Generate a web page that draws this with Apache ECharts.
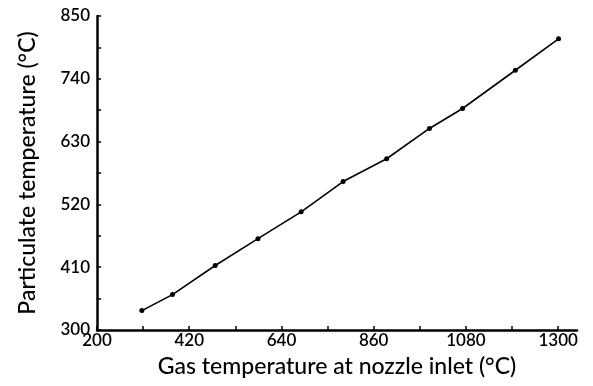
<!DOCTYPE html>
<html>
<head>
<meta charset="utf-8">
<script src="https://cdn.jsdelivr.net/npm/echarts@6/dist/echarts.min.js"></script>
<style>
  html, body { margin: 0; padding: 0; background: #fff; }
  #chart { width: 593px; height: 386px; }
</style>
</head>
<body>
<div id="chart"></div>
<script>
// gas temperature at nozzle inlet (°C)
var gasTemp = [307, 380, 482, 584, 687, 787, 891, 993, 1072, 1198, 1301]
// particulate temperature (°C)
var partTemp = [334, 362, 413, 460, 507, 560, 600, 653, 688, 755, 810]

var xTickVals = [200, 310, 420, 530, 640, 750, 860, 970, 1080, 1190, 1300]
var xLabelVals = [200, 420, 640, 860, 1080, 1300]
var yTickVals = [300, 355, 410, 465, 520, 575, 630, 685, 740, 795, 850]
var yLabelVals = [300, 410, 520, 630, 740, 850]

var font = 'Lato'
var plain = function (v) { return String(v) }
var chart = echarts.init(document.getElementById('chart'))

chart.setOption({
  animation: false,
  grid: { left: 97, right: 16, top: 16, bottom: 56 },
  xAxis: {
    type: 'value',
    min: 200,
    max: 1345,
    name: 'Gas temperature at nozzle inlet (°C)',
    nameLocation: 'middle',
    nameGap: 25,
    nameTextStyle: { color: '#000', fontSize: 23, fontFamily: font, fontWeight: 500 },
    axisLine: { lineStyle: { color: '#000', width: 2.5 } },
    axisTick: { show: true, inside: true, length: 4, customValues: xTickVals, lineStyle: { color: '#000', width: 1.5 } },
    axisLabel: { customValues: xLabelVals, formatter: plain, color: '#000', fontSize: 17, fontFamily: font, fontWeight: 600, margin: 2 },
    splitLine: { show: false }
  },
  yAxis: {
    type: 'value',
    min: 300,
    max: 850,
    name: 'Particulate temperature (°C)',
    nameLocation: 'middle',
    nameGap: 58,
    nameTextStyle: { color: '#000', fontSize: 23, fontFamily: font, fontWeight: 500 },
    axisLine: { show: true, lineStyle: { color: '#000', width: 2.5 } },
    axisTick: { show: true, inside: true, length: 4, customValues: yTickVals, lineStyle: { color: '#000', width: 1.5 } },
    axisLabel: { customValues: yLabelVals, formatter: plain, color: '#000', fontSize: 17, fontFamily: font, fontWeight: 600, margin: 7 },
    splitLine: { show: false }
  },
  series: [{
    type: 'line',
    data: gasTemp.map(function (g, i) { return [g, partTemp[i]] }),
    symbol: 'circle',
    symbolSize: 5,
    itemStyle: { color: '#000' },
    lineStyle: { color: '#000', width: 1.6 }
  }]
})
</script>
</body>
</html>
